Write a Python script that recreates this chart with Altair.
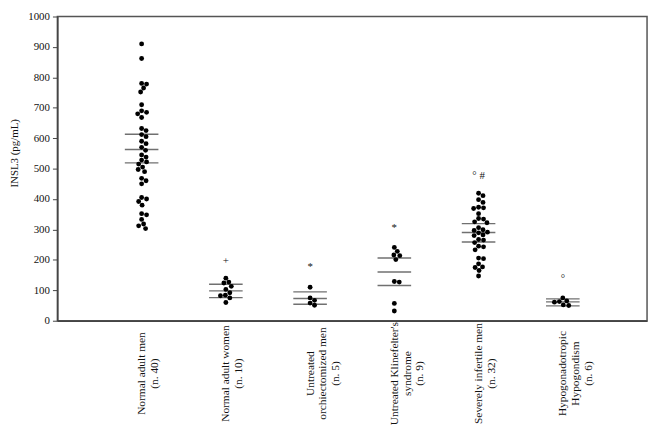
import json
import altair as alt
import pandas as pd

# ---- data ----
label_lines = [
    ["Normal adult men", "(n. 40)"],
    ["Normal adult women", "(n. 10)"],
    ["Untreated", "orchiectomized men", "(n. 5)"],
    ["Untreated Klinefelter's", "syndrome", "(n. 9)"],
    ["Severely infertile men", "(n. 32)"],
    ["Hypogonadotropic", "Hypogondism", "(n. 6)"],
]
men = [910, 862, 780, 778, 765, 752, 710, 690, 685, 680, 668, 632, 625, 612, 605,
       590, 582, 570, 560, 545, 538, 528, 522, 515, 505, 497, 490, 468, 460, 450,
       405, 400, 392, 380, 352, 348, 333, 318, 312, 303]
women = [140, 127, 124, 113, 103, 92, 84, 82, 75, 60]
orchi = [110, 75, 67, 58, 51]
kline = [241, 228, 216, 214, 201, 129, 127, 57, 32]
infertile = [419, 411, 398, 389, 373, 371, 369, 352, 336, 334, 325, 322, 306, 299,
             297, 291, 289, 282, 280, 267, 265, 257, 245, 243, 233, 206, 204, 187,
             177, 175, 165, 147]
hypo = [75, 65, 63, 61, 52, 50]
series = [men, women, orchi, kline, infertile, hypo]

upper = [613, 120, 95, 206, 319, 72]
middle = [563, 98, 73, 160, 290, 62]
lower = [519, 76, 54, 116, 259, 49]

note_group = [1, 2, 3, 4, 5]
note_value = [195, 176, 305, 476, 136]
note_text = ["+", "*", "*", "\u00b0  #", "\u00b0"]

# ---- layout ----
W, H = 597, 308
STEP = W / 7
PX = H / 1000
D = 4.9
FONT = "Liberation Serif"


def swarm(vals):
    placed = []
    offs = [0.0] * len(vals)
    order = sorted(range(len(vals)), key=lambda i: -vals[i])
    cands = [0.0]
    for k in range(1, 100):
        cands += [k * 0.5, -k * 0.5]
    for i in order:
        y = vals[i] * PX
        chosen = 0.0
        for c in cands:
            if all((c - px) ** 2 + (y - py) ** 2 >= D * D for px, py in placed):
                chosen = c
                break
        placed.append((chosen, y))
        offs[i] = chosen
    return offs


rows = []
for g, vals in enumerate(series):
    offs = swarm(vals)
    for v, o in zip(vals, offs):
        rows.append({"x": g + o / STEP, "v": v})
pts = pd.DataFrame(rows)

lines = pd.DataFrame(
    [{"x": g, "v": val} for g in range(6) for val in (upper[g], middle[g], lower[g])]
)
notes = pd.DataFrame({"x": note_group, "v": note_value, "t": note_text})

xscale = alt.Scale(domain=[-1, 6], nice=False, zero=False)
yscale = alt.Scale(domain=[0, 1000], nice=False)

xaxis = alt.Axis(
    values=list(range(6)),
    labelExpr=json.dumps(label_lines) + "[datum.value]",
    labelAngle=270,
    labelAlign="center",
    labelBaseline="middle",
    labelPadding=53,
    labelLineHeight=13,
    labelFont=FONT,
    labelFontSize=11.5,
    labelColor="#111",
    ticks=False,
    grid=False,
    domainColor="#444",
    domainWidth=1.5,
    title=None,
    labelOverlap=False,
    labelBound=False,
    labelFlush=False,
)
yaxis = alt.Axis(
    values=list(range(0, 1001, 100)),
    format="d",
    title="INSL3 (pg/mL)",
    titleFont=FONT,
    titleFontSize=11,
    titleFontWeight="normal",
    titleColor="#111",
    titleX=-43,
    titleY=138,
    titleAngle=270,
    titleAlign="center",
    titleBaseline="middle",
    labelFont=FONT,
    labelFontSize=11,
    labelColor="#111",
    labelPadding=3,
    tickSize=5,
    tickColor="#444",
    domainColor="#444",
    domainWidth=1.5,
    grid=False,
    labelFlush=False,
)

base_x = alt.X("x:Q", scale=xscale, axis=xaxis)
base_y = alt.Y("v:Q", scale=yscale, axis=yaxis)

points = alt.Chart(pts).mark_circle(size=24, color="#000", opacity=1).encode(
    x=base_x, y=base_y
)
ticks = alt.Chart(lines).mark_tick(
    orient="horizontal", size=34, thickness=1.4, color="#333"
).encode(x=base_x, y=base_y)
text = alt.Chart(notes).mark_text(
    font=FONT, fontSize=11, align="center", baseline="middle", color="#111"
).encode(x=base_x, y=base_y, text="t:N")

chart = (
    alt.layer(ticks, points, text)
    .properties(
        width=W,
        height=H,
        autosize=alt.AutoSizeParams(type="none"),
        padding={"left": 50, "top": 6, "right": 4, "bottom": 107},
        background="white",
    )
    .configure_view(stroke="#555", strokeWidth=1.5)
)

chart.save("out.html", embed_options={"renderer": "svg", "actions": False})
